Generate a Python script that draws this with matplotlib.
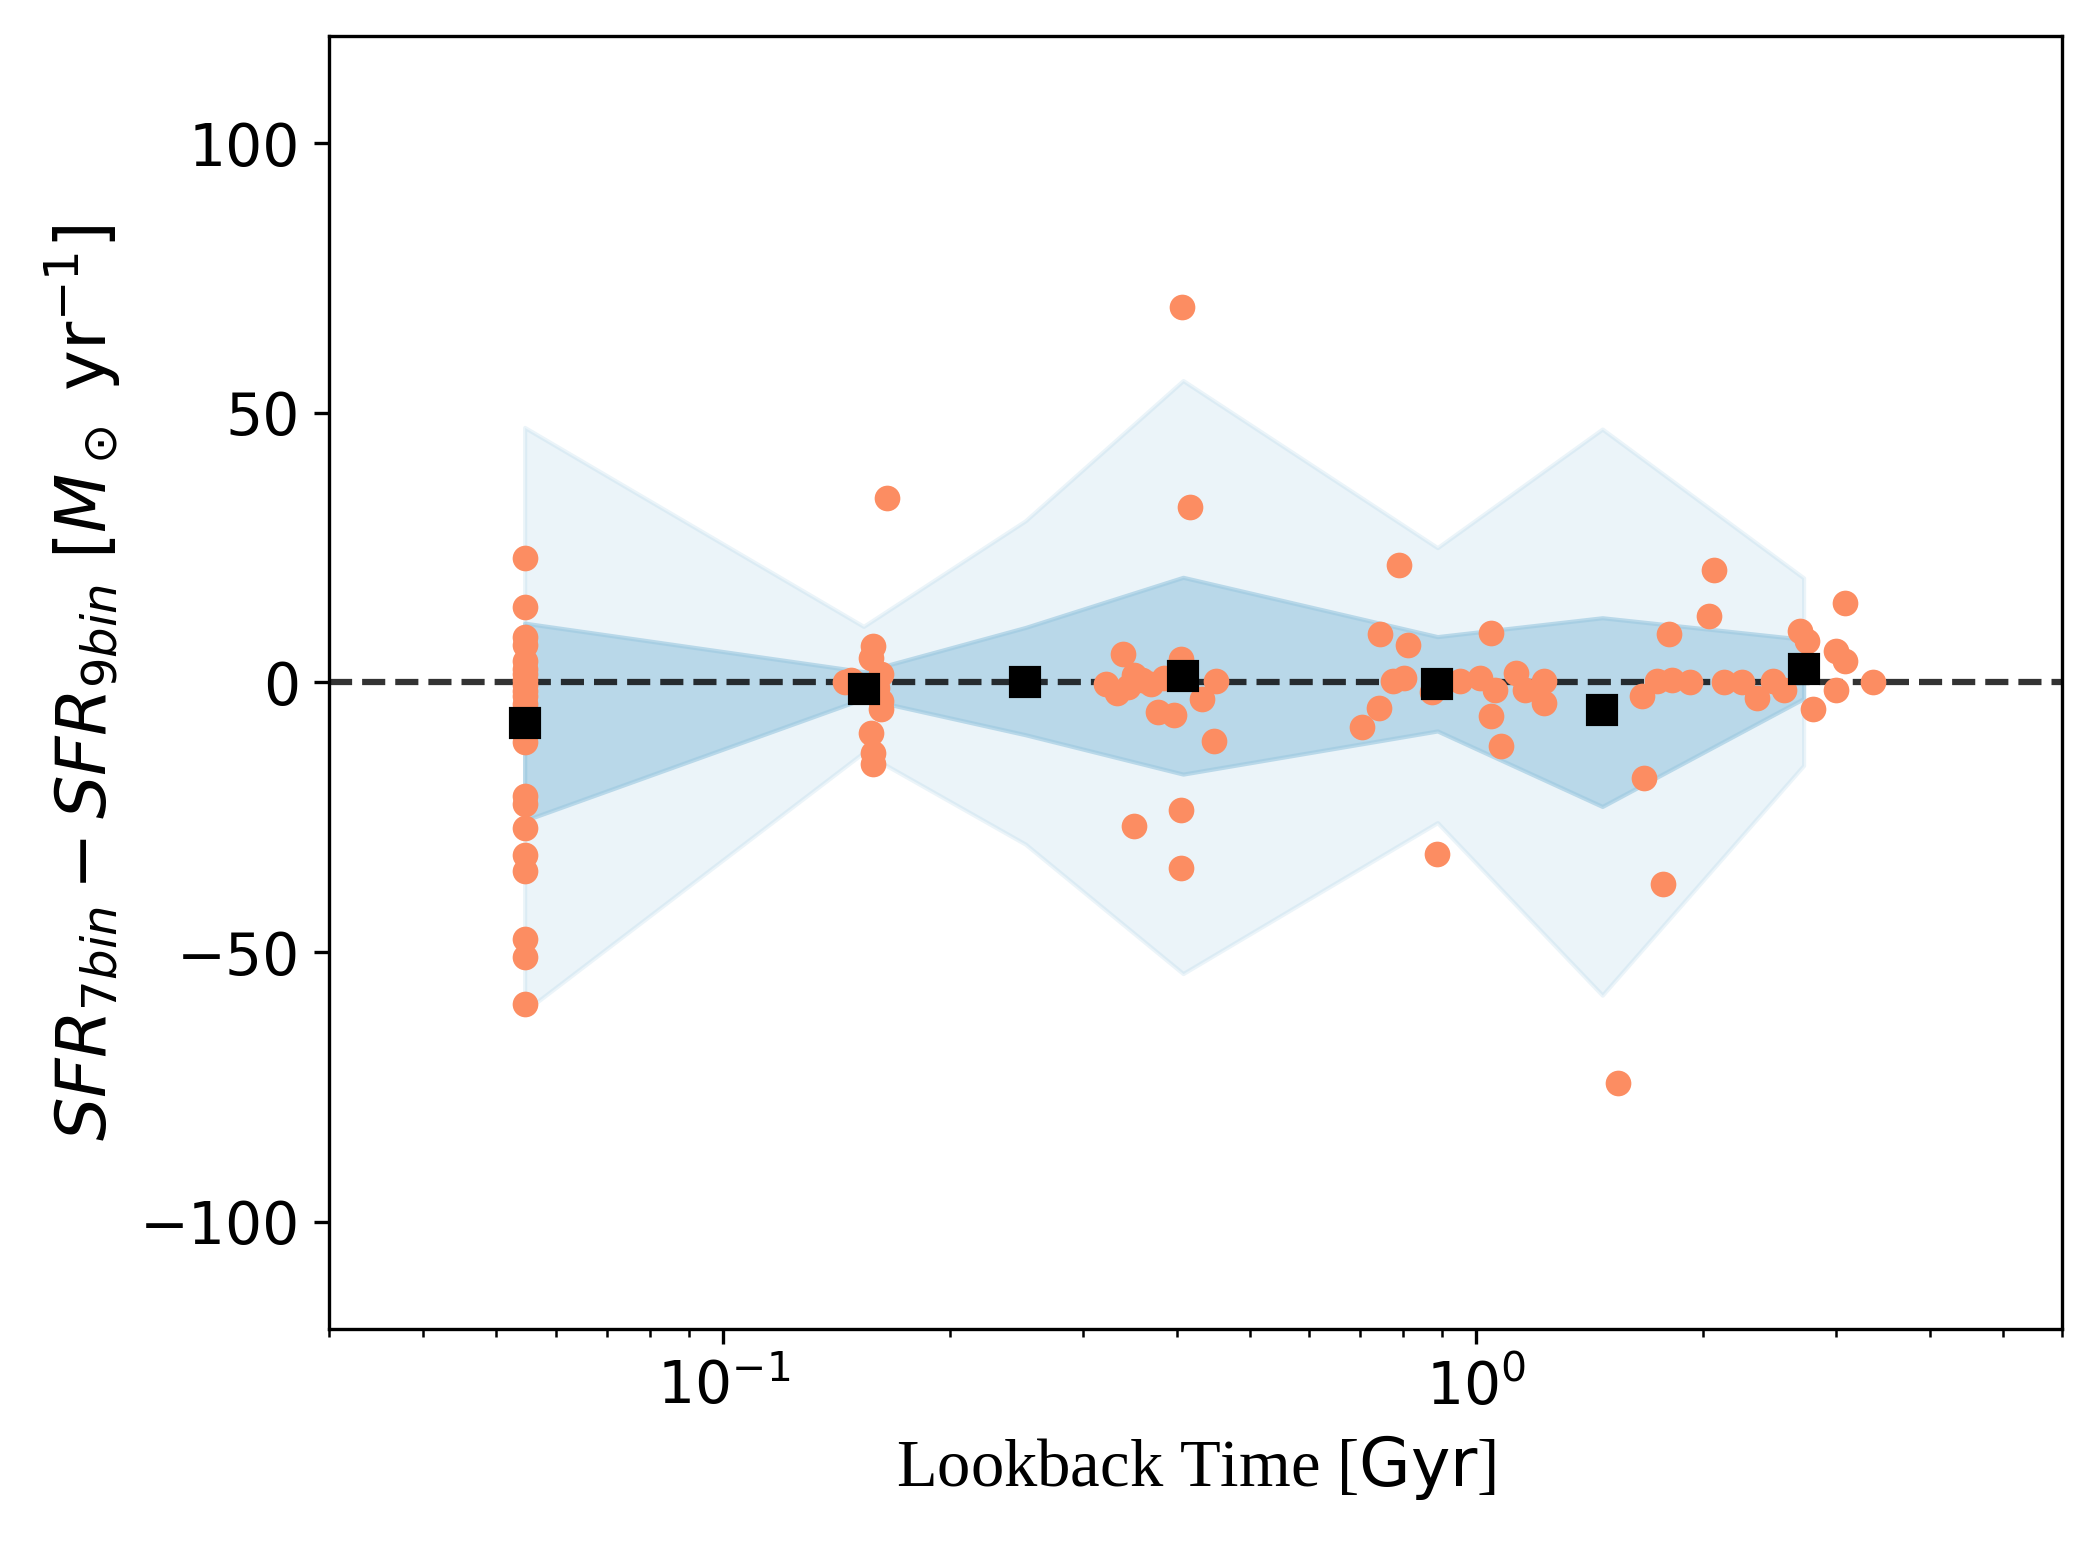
import numpy as np
import matplotlib
matplotlib.use("Agg")
import matplotlib.pyplot as plt

# binned statistics (lookback time in Gyr)
bin_t = [0.0545, 0.1536, 0.252, 0.408, 0.888, 1.47, 2.72]
bin_median = [-7.5, -1.2, 0.0, 1.2, -0.3, -5.2, 2.5]
p16 = [-25.6, -3.0, -9.7, -17.0, -9.0, -23.0, -3.0]
p84 = [11.0, 2.0, 10.2, 19.5, 8.5, 12.0, 8.0]
p2 = [-61.0, -13.0, -30.0, -54.0, -26.0, -58.0, -15.4]
p98 = [47.3, 10.4, 30.0, 56.0, 25.0, 47.0, 19.4]

# individual galaxies
t_gal = [0.0545] * 22 + [
    0.165, 0.158, 0.157, 0.148, 0.152, 0.162, 0.145, 0.160, 0.162, 0.162, 0.157, 0.158, 0.158,
    0.407, 0.417, 0.340, 0.322, 0.333, 0.351, 0.370, 0.385, 0.406, 0.432, 0.451, 0.378, 0.397,
    0.449, 0.406, 0.351, 0.406, 0.360, 0.345,
    0.789, 0.745, 0.812, 1.046, 0.776, 0.801, 0.874, 0.952, 1.01, 1.06, 1.13, 1.16, 1.23, 1.23,
    0.742, 0.706, 1.046, 1.08, 0.888,
    1.54, 1.77, 1.67, 1.66, 1.80, 1.74, 1.82, 1.92, 2.04, 2.07, 2.13, 2.25, 2.36, 2.48, 2.56,
    2.69, 2.75, 2.80, 3.0, 3.0, 3.09, 3.09, 3.36,
]
dsfr_gal = [
    23.0, 14.0, 8.5, 7.0, 4.0, 2.5, 1.5, 0.5, -0.5, -1.5, -2.5, -4.0, -8.0, -11.0,
    -21.0, -22.5, -27.0, -32.0, -35.0, -47.5, -51.0, -59.7,
    34.3, 6.8, 4.5, 0.5, -0.5, 1.5, 0.0, -1.0, -3.5, -5.0, -9.3, -13.0, -15.2,
    69.7, 32.6, 5.3, -0.3, -1.9, 1.3, -0.3, 0.8, 4.3, -3.0, 0.2, -5.5, -6.0,
    -10.9, -23.7, -26.7, -34.4, 0.5, -0.8,
    21.8, 9.0, 6.9, 9.1, 0.2, 0.8, -1.7, 0.2, 0.8, -1.4, 1.8, -1.4, 0.2, -3.9,
    -4.8, -8.2, -6.2, -11.8, -31.8,
    -74.3, -37.4, -17.8, -2.5, 9.0, 0.2, 0.4, 0.0, 12.4, 20.9, 0.0, 0.0, -2.8, 0.2, -1.4,
    9.6, 7.7, -4.9, -1.4, 5.8, 4.0, 14.8, 0.0,
]

fig, ax = plt.subplots(figsize=(2098 / 300, 1544 / 300), dpi=300)
fig.subplots_adjust(left=0.157, right=0.983, top=0.977, bottom=0.139)

ax.fill_between(bin_t, p2, p98, color="#9ecae1", alpha=0.2)
ax.fill_between(bin_t, p16, p84, color="#9ecae1", alpha=0.65)
ax.axhline(0, color="k", ls="--", lw=1.5, alpha=0.8)
ax.scatter(t_gal, dsfr_gal, s=38, color="#fc8d62", zorder=3, linewidths=0)
ax.plot(bin_t, bin_median, "ks", ms=6.5, zorder=4)

ax.set_xscale("log")
ax.set_xlim(0.03, 6.0)
ax.set_ylim(-120, 120)
ax.tick_params(labelsize=14)
ax.set_yticks([-100, -50, 0, 50, 100])

ax.set_xlabel(r"Lookback Time [$\rm Gyr$]", fontsize=16, family="Liberation Serif")
ax.set_ylabel(r"$SFR_{7bin} - SFR_{9bin}$ [$M_\odot$ yr$^{-1}$]", fontsize=16.5)

fig.savefig("out.png", dpi=300)
